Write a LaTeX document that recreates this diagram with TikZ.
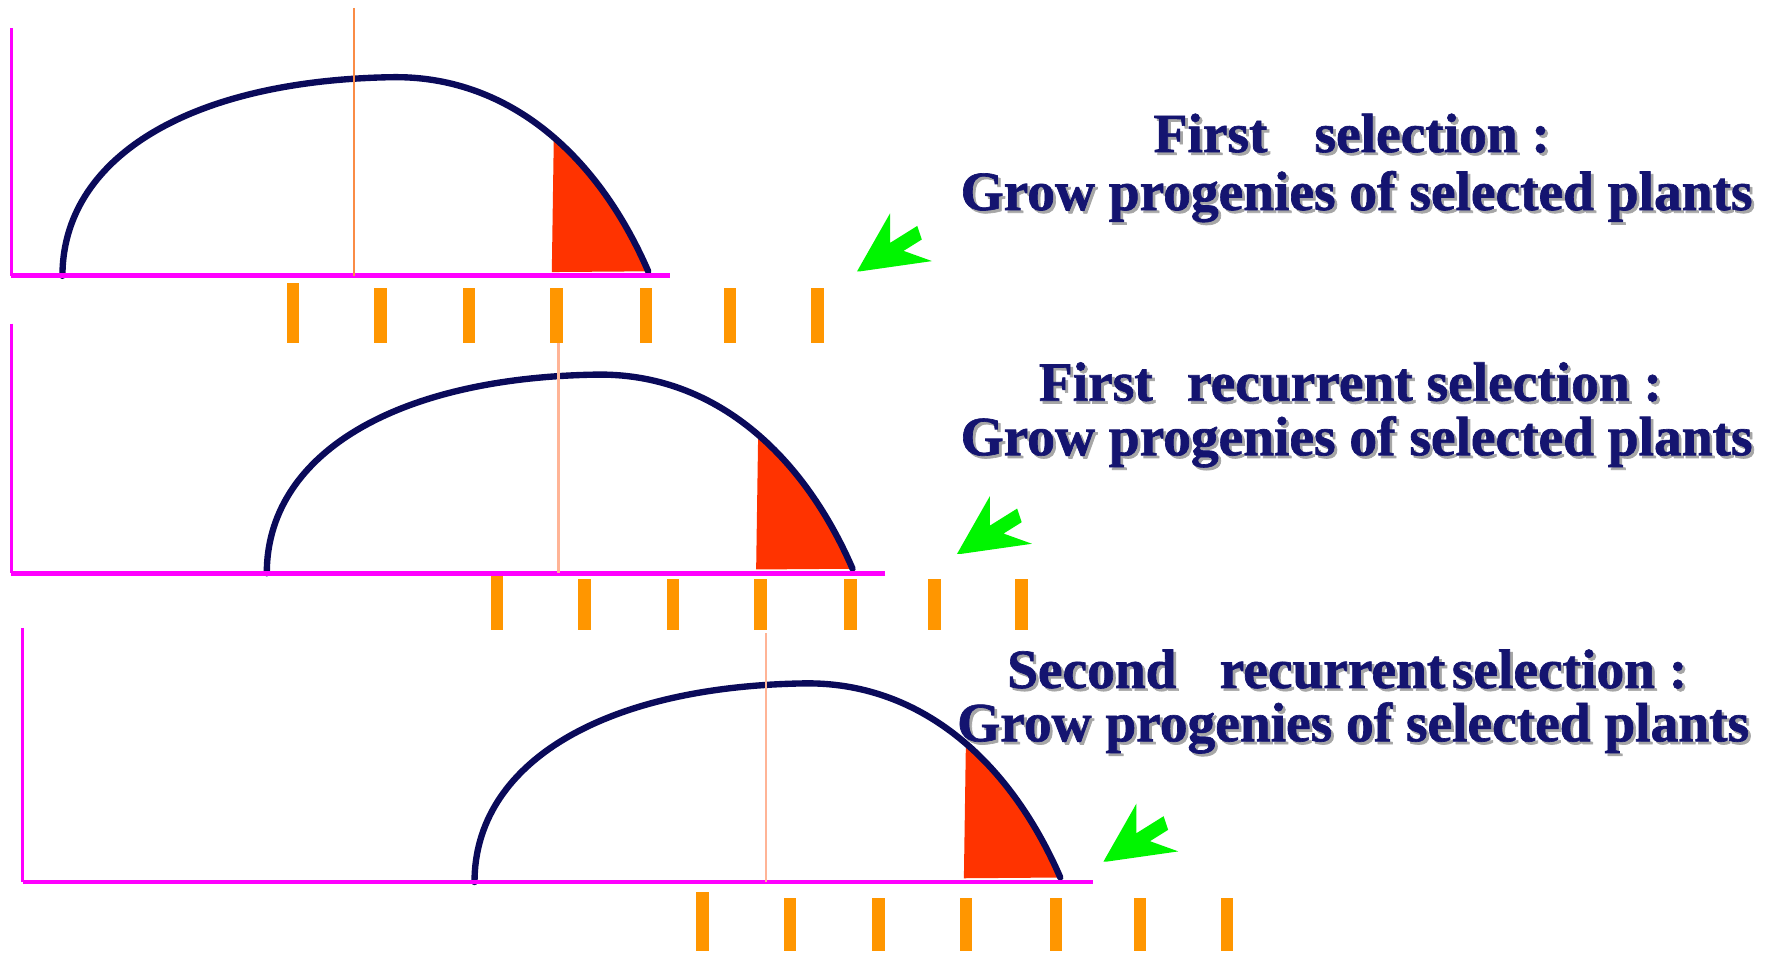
\documentclass[tikz,border=0pt]{standalone}
\usepackage{fontspec}
\setmainfont{Liberation Serif}[BoldFeatures={FakeBold=1.2}]
\definecolor{navy}{RGB}{10,10,90}
\definecolor{txtblue}{RGB}{20,20,112}
\definecolor{mag}{RGB}{255,0,255}
\definecolor{tickor}{RGB}{255,150,0}
\definecolor{redfill}{RGB}{255,51,0}
\definecolor{arrgreen}{RGB}{0,245,0}
\definecolor{meanA}{RGB}{250,140,70}
\definecolor{meanB}{RGB}{255,180,150}
\newcommand\shtxt[1]{\makebox[0pt][l]{\hspace{2.4pt}\raisebox{-2.4pt}{\textcolor{black!35}{#1}}}#1}
\tikzset{
  lbl/.style={anchor=base west, inner sep=0pt, text=txtblue,
    font=\fontsize{48.8}{58}\selectfont\bfseries},
  axisv/.style={mag, line width=2.5pt},
  axish/.style={mag, line width=4.5pt},
  meanline/.style={line width=2pt},
  tickbar/.style={tickor},
  dome/.pic={
    \begin{scope}
      \clip (0,0) .. controls (0,-103) and (110,-172) .. (290,-175)
            .. controls (390,-176.7) and (470,-110) .. (516,-4) -- cycle;
      \fill[redfill] (434,-200) -- (431,2) -- (530,2) -- (530,-200) -- cycle;
    \end{scope}
    \draw[navy, line width=5.6pt, line cap=round]
      (0,0) .. controls (0,-103) and (110,-172) .. (290,-175)
            .. controls (390,-176.7) and (470,-110) .. (516,-4);
  },
  greenarrow/.pic={
    \fill[arrgreen] (0,0) -- (29,-51) -- (29,-25) -- (53,-40) -- (57,-28) --
      (41,-18) -- (66,-9) -- (3,0) -- cycle;
  },
}
\begin{document}
\begin{tikzpicture}[x=1pt,y=-1pt]
\useasboundingbox (0,0) rectangle (1568,842);
\fill[white] (0,0) rectangle (1568,842);

% ---------- panel 1 ----------
\pic at (55,243) {dome};
\draw[axisv] (10,25) -- (10,243);
\draw[axish] (10,243) -- (590,243);
\draw[meanline, meanA] (312,7) -- (312,243);
\begin{scope}[shift={(55,243)}]
  \fill[tickbar] (197.5,6) rectangle (208.5,59);
  \foreach \tx in {280,358,435,514,588,665}
    \fill[tickbar] (\tx-5.5,11) rectangle (\tx+5.5,59);
\end{scope}
\pic at (755,239) {greenarrow};

% ---------- panel 2 ----------
\pic at (235,505) {dome};
\draw[axisv] (10,285) -- (10,505);
\draw[axish] (10,505) -- (780,505);
\draw[meanline, meanB] (492,302) -- (492,505);
\begin{scope}[shift={(235,505)}]
  \fill[tickbar] (197.5,2) rectangle (208.5,50);
  \foreach \tx in {280,358,435,514,588,665}
    \fill[tickbar] (\tx-5.5,5) rectangle (\tx+5.5,50);
\end{scope}
\pic at (843,488) {greenarrow};

% ---------- panel 3 ----------
\pic at (418,777) {dome};
\draw[axisv] (20,553) -- (20,777);
\draw[mag, line width=3.5pt] (20,777) -- (963,777);
\draw[meanline, meanB] (675,558) -- (675,777);
\begin{scope}[shift={(416,777)}]
  \fill[tickbar] (197.5,9) rectangle (208.5,61);
  \foreach \tx in {280,358,435,514,588,665}
    \fill[tickbar] (\tx-5.5,14) rectangle (\tx+5.5,61);
\end{scope}
\pic at (972,759) {greenarrow};

% ---------- texts ----------
\node[lbl] (t1a) at (1016,134) {\shtxt{First\hspace{0.85em}selection :}};
\node[lbl] (t1b) at (846,185) {\shtxt{Grow progenies of selected plants}};
\node[lbl] (t2a) at (915,353) {\shtxt{First\hspace{0.62em}recurrent selection :}};
\node[lbl] (t2b) at (846,401) {\shtxt{Grow progenies of selected plants}};
\node[lbl] (t3a) at (887,606) {\shtxt{Second\hspace{0.78em}recurrent\hspace{0.12em}selection :}};
\node[lbl] (t3b) at (843,653) {\shtxt{Grow progenies of selected plants}};
\end{tikzpicture}
\end{document}
